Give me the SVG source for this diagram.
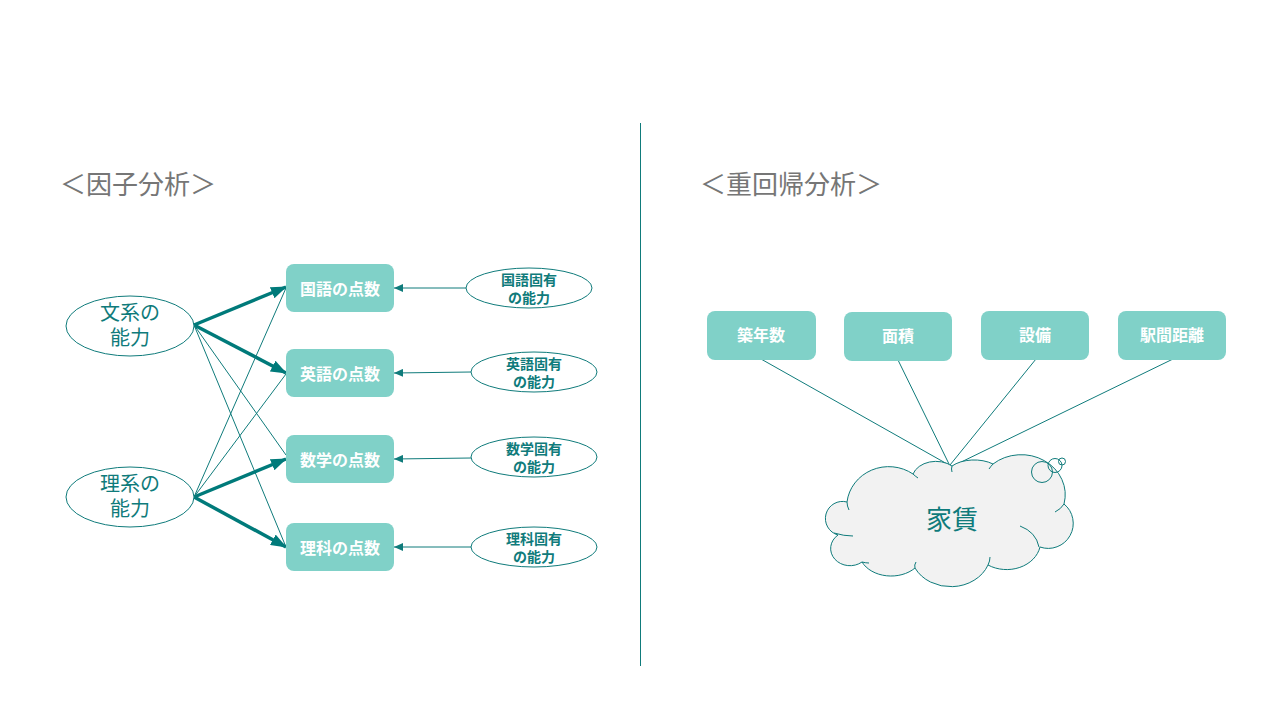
<svg xmlns="http://www.w3.org/2000/svg" width="1280" height="720" viewBox="0 0 1280 720">
<defs>
<style>
.title{font-family:"Noto Sans CJK JP","Noto Sans",sans-serif;font-size:26px;fill:#767676}
.box{fill:#80d1c8}
.btxt{font-family:"Noto Sans CJK JP","Noto Sans",sans-serif;font-size:16px;font-weight:bold;fill:#ffffff;text-anchor:middle;dominant-baseline:central}
.ell{fill:#ffffff;stroke:#0f7b7b;stroke-width:1}
.etxt{font-family:"Noto Sans CJK JP","Noto Sans",sans-serif;font-size:20px;fill:#0f7b7b;text-anchor:middle;dominant-baseline:central}
.stxt{font-family:"Noto Sans CJK JP","Noto Sans",sans-serif;font-size:14px;font-weight:bold;fill:#0f7b7b;text-anchor:middle;dominant-baseline:central}
.thick{stroke:#007a7a;stroke-width:3.5;fill:none}
.thin{stroke:#0f7b7b;stroke-width:1;fill:none}
.cl{fill:none;stroke:#0f7b7b;stroke-width:1}
</style>
<marker id="ah" markerUnits="userSpaceOnUse" markerWidth="16" markerHeight="12" viewBox="0 0 16 12" refX="15" refY="6" orient="auto">
<path d="M0,0 L16,6 L0,12 Z" fill="#007a7a"/>
</marker>
<marker id="as" markerUnits="userSpaceOnUse" markerWidth="9" markerHeight="8" viewBox="0 0 9 8" refX="9" refY="4" orient="auto">
<path d="M0,0 L9,4 L0,8 Z" fill="#0f7b7b"/>
</marker>
</defs>
<rect width="1280" height="720" fill="#ffffff"/>

<text class="title" x="60" y="194">＜因子分析＞</text>
<text class="title" x="700" y="194">＜重回帰分析＞</text>
<line x1="640.5" y1="123" x2="640.5" y2="666" stroke="#0f7b7b" stroke-width="1"/>

<g id="connectors">
<line class="thick" x1="194" y1="325" x2="286" y2="287" marker-end="url(#ah)"/>
<line class="thick" x1="194" y1="325" x2="286" y2="373" marker-end="url(#ah)"/>
<line class="thin" x1="194" y1="325" x2="286" y2="455"/>
<line class="thin" x1="194" y1="325" x2="286" y2="547"/>
<line class="thick" x1="194" y1="497" x2="286" y2="459" marker-end="url(#ah)"/>
<line class="thick" x1="194" y1="497" x2="286" y2="547" marker-end="url(#ah)"/>
<line class="thin" x1="194" y1="497" x2="286" y2="288"/>
<line class="thin" x1="194" y1="497" x2="286" y2="374"/>
<line class="thin" x1="466" y1="288" x2="394" y2="288" marker-end="url(#as)"/>
<line class="thin" x1="471" y1="372" x2="394" y2="373" marker-end="url(#as)"/>
<line class="thin" x1="471" y1="458" x2="394" y2="459" marker-end="url(#as)"/>
<line class="thin" x1="471" y1="547" x2="394" y2="547" marker-end="url(#as)"/>
<line class="thin" x1="761" y1="359" x2="949" y2="465"/>
<line class="thin" x1="898" y1="360" x2="949" y2="464"/>
<line class="thin" x1="1036" y1="359" x2="950" y2="465"/>
<line class="thin" x1="1173" y1="359" x2="953" y2="466"/>
</g>

<g id="n-bunkei"><ellipse class="ell" cx="130" cy="326" rx="64" ry="30"/><text class="etxt"><tspan x="130" y="311">文系の</tspan><tspan x="130" y="336">能力</tspan></text></g>
<g id="n-rikei"><ellipse class="ell" cx="130" cy="497" rx="64" ry="30"/><text class="etxt"><tspan x="130" y="482">理系の</tspan><tspan x="130" y="507">能力</tspan></text></g>

<g id="n-kokugo"><rect class="box" x="286" y="264" width="108" height="48" rx="8"/><text class="btxt" x="340" y="288">国語の点数</text></g>
<g id="n-eigo"><rect class="box" x="286" y="349" width="108" height="48" rx="8"/><text class="btxt" x="340" y="373">英語の点数</text></g>
<g id="n-sugaku"><rect class="box" x="286" y="435" width="108" height="48" rx="8"/><text class="btxt" x="340" y="459">数学の点数</text></g>
<g id="n-rika"><rect class="box" x="286" y="523" width="108" height="48" rx="8"/><text class="btxt" x="340" y="547">理科の点数</text></g>

<g id="n-kokugo-u"><ellipse class="ell" cx="529" cy="288" rx="63" ry="20"/><text class="stxt"><tspan x="529" y="279">国語固有</tspan><tspan x="529" y="297">の能力</tspan></text></g>
<g id="n-eigo-u"><ellipse class="ell" cx="534" cy="372" rx="63" ry="20"/><text class="stxt"><tspan x="534" y="363">英語固有</tspan><tspan x="534" y="381">の能力</tspan></text></g>
<g id="n-sugaku-u"><ellipse class="ell" cx="534" cy="457" rx="63" ry="20"/><text class="stxt"><tspan x="534" y="448">数学固有</tspan><tspan x="534" y="466">の能力</tspan></text></g>
<g id="n-rika-u"><ellipse class="ell" cx="534" cy="547" rx="63" ry="20"/><text class="stxt"><tspan x="534" y="538">理科固有</tspan><tspan x="534" y="556">の能力</tspan></text></g>

<g id="n-chikunen"><rect class="box" x="707" y="311" width="109" height="49" rx="8"/><text class="btxt" x="761" y="334">築年数</text></g>
<g id="n-menseki"><rect class="box" x="844" y="312" width="108" height="49" rx="8"/><text class="btxt" x="898" y="335">面積</text></g>
<g id="n-setsubi"><rect class="box" x="981" y="311" width="108" height="49" rx="8"/><text class="btxt" x="1035" y="334">設備</text></g>
<g id="n-ekikan"><rect class="box" x="1118" y="311" width="108" height="49" rx="8"/><text class="btxt" x="1172" y="334">駅間距離</text></g>

<g id="n-yachin">
<path d="M847,502 A42,40 0 0 1 913,474 A24,18 0 0 1 952,466 A29,17 0 0 1 993,464 A44,40 0 0 1 1064,504 A25,25 0 0 1 1040,547 A34,28 0 0 1 988,565 A40,34 0 0 1 915,568 A32,24 0 0 1 862,562 A18,16 0 0 1 838,535 A17,17 0 0 1 847,502 Z" fill="#f2f2f2" stroke="#0f7b7b" stroke-width="1"/>
<path class="cl" d="M847,502 Q847,506 849,510"/>
<path class="cl" d="M913,474 Q915,476 918,478"/>
<path class="cl" d="M952,466 Q951,469 952,472"/>
<path class="cl" d="M993,464 Q991,466 989,469"/>
<path class="cl" d="M1064,504 Q1061,509 1055,512"/>
<path class="cl" d="M1020,526 Q1036,532 1039,547"/>
<path class="cl" d="M988,565 Q990,561 990,557"/>
<path class="cl" d="M915,568 Q914,565 916,562"/>
<path class="cl" d="M862,562 Q866,563 869,563"/>
<path class="cl" d="M834,533 Q844,536 853,536"/>
<circle class="cl" cx="1042" cy="472" r="10.5"/>
<circle class="cl" cx="1055" cy="465.5" r="7"/>
<circle class="cl" cx="1062" cy="461.5" r="3.5"/>
<text x="952" y="517" style="font-family:'Noto Sans CJK JP','Noto Sans',sans-serif;font-size:26px;fill:#0f7b7b;text-anchor:middle;dominant-baseline:central">家賃</text>
</g>
</svg>
